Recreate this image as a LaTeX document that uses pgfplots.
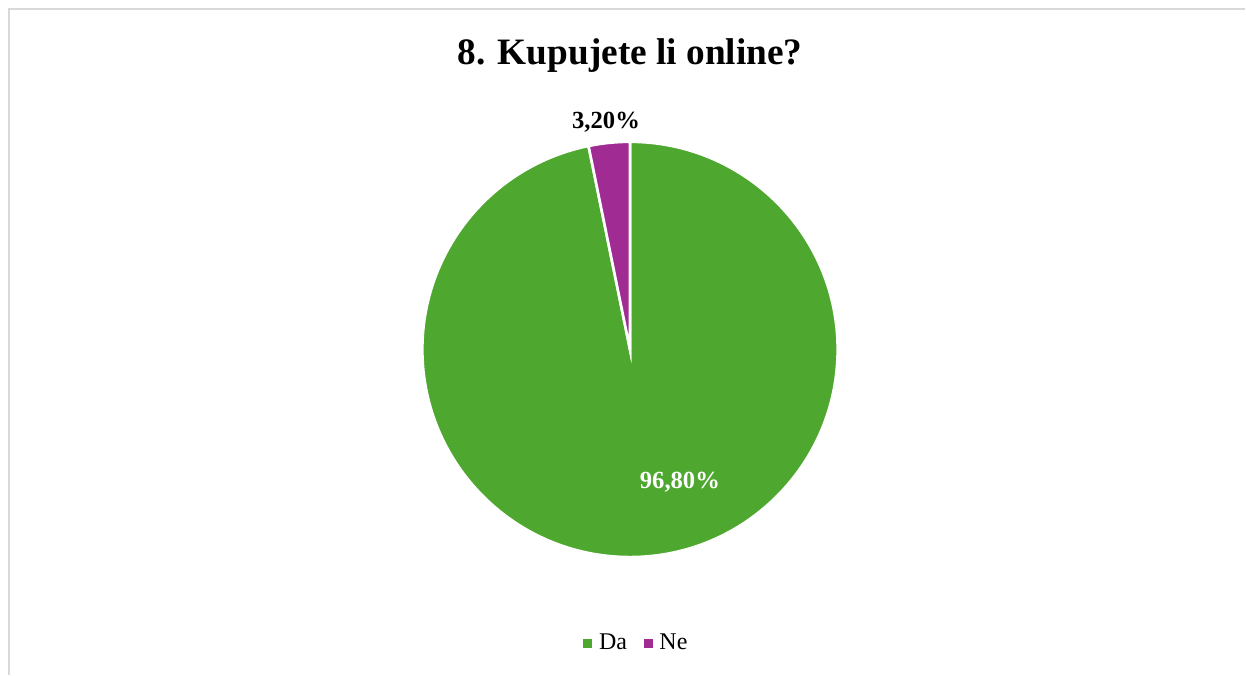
\documentclass[border=0pt]{standalone}
\usepackage{pgfplots}
\pgfplotsset{compat=1.18}
\usepackage{fontspec}
\setmainfont{Liberation Serif}

\definecolor{dagreen}{HTML}{4EA72E}
\definecolor{nepurple}{HTML}{A02B93}
\definecolor{frame}{HTML}{D9D9D9}

% shares in percent
\def\valDa{96.8}
\def\valNe{3.2}

\begin{document}
\begin{tikzpicture}
  \pgfmathsetmacro\angStart{90}
  \pgfmathsetmacro\angDa{90-3.6*\valDa}
  \pgfmathsetmacro\angNe{\angDa-3.6*\valNe}
  \def\rad{156pt}
  \begin{axis}[
    scale only axis,
    width=934.5pt, height=506.25pt,
    xmin=0, xmax=1246,
    ymin=0, ymax=675,
    y dir=reverse,
    hide axis,
    clip=false,
    legend style={
      at={(0.5115,0.046)}, anchor=center,
      draw=none, fill=none,
      legend columns=2,
      font=\fontsize{18}{21}\selectfont,
      nodes={inner sep=1.5pt},
      /tikz/every odd column/.append style={column sep=4pt},
      /tikz/every even column/.append style={column sep=11pt},
    },
  ]
    % invisible page frame
    \path (axis cs:0,0) rectangle (axis cs:1246,675);
    % chart border (cropped on right and bottom)
    \draw[frame, line width=1.5pt] (axis cs:9,676) -- (axis cs:9,9) -- (axis cs:1247,9);

    % title
    \node[anchor=base, font=\fontsize{28}{34}\selectfont\bfseries]
      at (axis cs:631,65) {8. Kupujete li online?};

    % pie slices
    \filldraw[fill=dagreen, draw=white, line width=2pt]
      (axis cs:631,350) -- ++(\angStart:\rad)
      arc[start angle=\angStart, end angle=\angDa, radius=\rad] -- cycle;
    \filldraw[fill=nepurple, draw=white, line width=2pt]
      (axis cs:631,350) -- ++(\angDa:\rad)
      arc[start angle=\angDa, end angle=\angNe, radius=\rad] -- cycle;

    % data labels
    \node[anchor=base, font=\fontsize{18.5}{22}\selectfont\bfseries]
      at (axis cs:607,129) {3,20\%};
    \node[anchor=base, text=white, font=\fontsize{18.5}{22}\selectfont\bfseries]
      at (axis cs:681,489) {96,80\%};

    % legend
    \addlegendimage{legend image code/.code={\fill[dagreen] (0pt,-3pt) rectangle (6pt,3pt);}}
    \addlegendentry{Da}
    \addlegendimage{legend image code/.code={\fill[nepurple] (0pt,-3pt) rectangle (6pt,3pt);}}
    \addlegendentry{Ne}
  \end{axis}
\end{tikzpicture}
\end{document}
